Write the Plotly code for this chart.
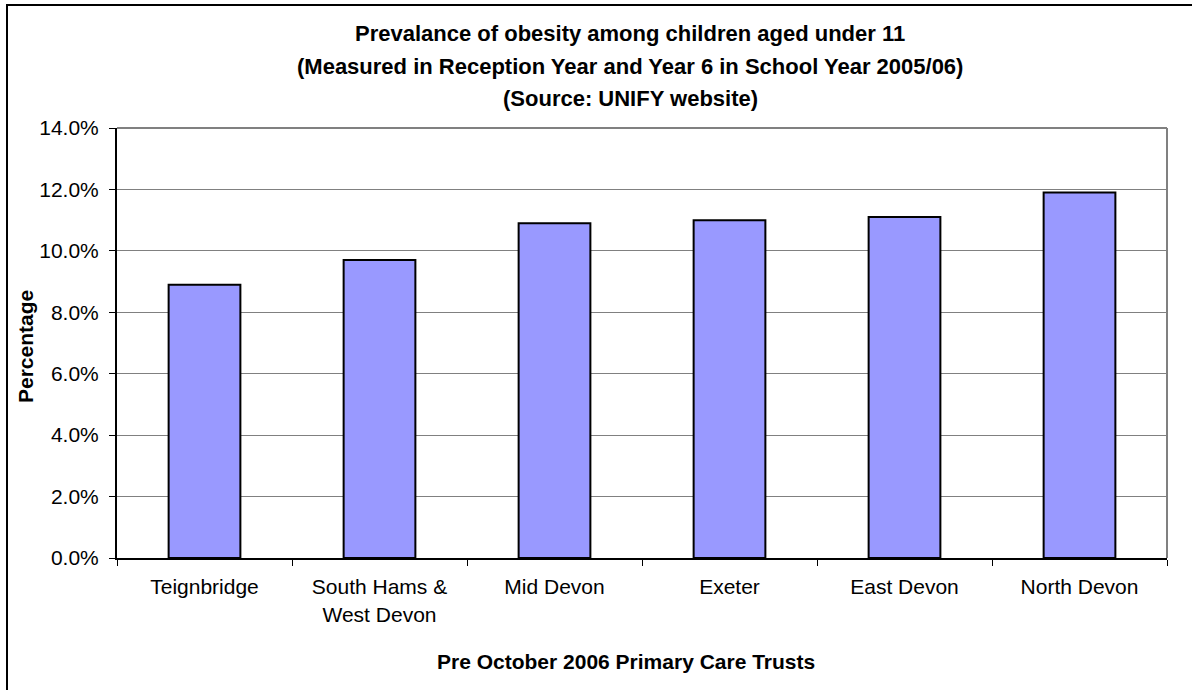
import plotly.graph_objects as go

categories = ["Teignbridge", "South Hams &<br>West Devon", "Mid Devon", "Exeter", "East Devon", "North Devon"]
values = [0.089, 0.097, 0.109, 0.110, 0.111, 0.119]
title_lines = [
    "Prevalance of obesity among children aged under 11",
    "(Measured in Reception Year and Year 6 in School Year 2005/06)",
    "(Source: UNIFY website)",
]
x_title = "Pre October 2006 Primary Care Trusts"
y_title = "Percentage"

W, H = 1192, 690
L, R, T, B = 117, 1167, 128, 558


def px(x):
    return (x - L) / (R - L)


def py(y):
    return (B - y) / (B - T)


FONT = "Liberation Sans, Arial, sans-serif"

fig = go.Figure()
fig.add_trace(go.Bar(
    x=categories, y=values,
    marker=dict(color="#9999FF", line=dict(color="#000000", width=2)),
))

annotations = []
for t, yy in zip(title_lines, [33, 66, 98]):
    annotations.append(dict(
        text="<b>%s</b>" % t, x=px(630), y=py(yy), xref="paper", yref="paper",
        showarrow=False, xanchor="center", yanchor="middle",
        font=dict(family=FONT, size=22, color="#000000"),
    ))
annotations.append(dict(
    text="<b>%s</b>" % x_title, x=px(626), y=py(661), xref="paper", yref="paper",
    showarrow=False, xanchor="center", yanchor="middle",
    font=dict(family=FONT, size=21, color="#000000"),
))
annotations.append(dict(
    text="<b>%s</b>" % y_title, x=px(25), y=py(347), xref="paper", yref="paper",
    showarrow=False, xanchor="center", yanchor="middle", textangle=-90,
    font=dict(family=FONT, size=21, color="#000000"),
))

shapes = [
    dict(type="rect", xref="paper", yref="paper", x0=px(7), x1=px(1200), y0=py(700), y1=py(5),
         line=dict(color="#000000", width=2), layer="below"),
    dict(type="line", xref="paper", yref="paper", x0=0, x1=1, y0=1, y1=1,
         line=dict(color="#808080", width=2)),
    dict(type="line", xref="paper", yref="paper", x0=1, x1=1, y0=0, y1=1,
         line=dict(color="#808080", width=2)),
]

fig.update_layout(
    width=W, height=H,
    margin=dict(l=L, r=W - R, t=T, b=H - B),
    paper_bgcolor="#FFFFFF", plot_bgcolor="#FFFFFF",
    bargap=0.59,
    showlegend=False,
    font=dict(family=FONT, size=21, color="#000000"),
    annotations=annotations,
    shapes=shapes,
)
fig.update_xaxes(
    type="category", tickson="boundaries", ticks="outside", ticklen=6, tickcolor="#000000",
    showline=True, linecolor="#000000", linewidth=2, showgrid=False,
    ticklabelstandoff=9,
    tickfont=dict(family=FONT, size=21, color="#000000"),
)
fig.update_yaxes(
    range=[0, 0.14], dtick=0.02, tickformat=".1%", ticks="outside", ticklen=6, tickcolor="#000000",
    showline=True, linecolor="#000000", linewidth=2,
    showgrid=True, gridcolor="#808080", gridwidth=1, zeroline=False,
    ticklabelstandoff=6,
    tickfont=dict(family=FONT, size=21, color="#000000"),
)

fig.write_html("out.html")
